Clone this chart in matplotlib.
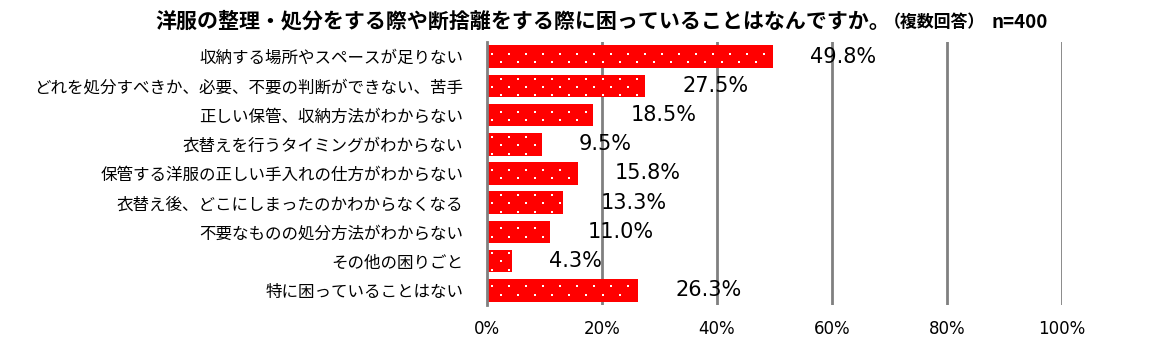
import matplotlib
matplotlib.use("Agg")
import matplotlib.pyplot as plt
import numpy as np

plt.rcParams['font.family'] = ['Noto Sans CJK JP', 'DejaVu Sans']

categories = [
    "収納する場所やスペースが足りない",
    "どれを処分すべきか、必要、不要の判断ができない、苦手",
    "正しい保管、収納方法がわからない",
    "衣替えを行うタイミングがわからない",
    "保管する洋服の正しい手入れの仕方がわからない",
    "衣替え後、どこにしまったのかわからなくなる",
    "不要なものの処分方法がわからない",
    "その他の困りごと",
    "特に困っていることはない",
]
values = [49.8, 27.5, 18.5, 9.5, 15.8, 13.3, 11.0, 4.3, 26.3]
xticks = [0, 20, 40, 60, 80, 100]

fig = plt.figure(figsize=(11.64, 3.43), dpi=100)
ax = fig.add_axes([0.4184, 0.1108, 0.494, 0.7668])

ypos = np.arange(len(categories))
bar_h = 0.77
bars = ax.barh(ypos, values, height=bar_h, color='#ff0000', linewidth=0, zorder=3)

ax.set_xlim(0, 100)
ax.set_ylim(len(categories) - 0.5, -0.5)

# sparse white dot pattern on the bars (diamond lattice in pixel space)
x0, y0 = ax.transData.transform((0, -0.5))
x1, y1 = ax.transData.transform((100, len(categories) - 0.5))
step_x, step_y = 8.5, 8.3
gx = np.arange(x0 + 5, x1, step_x)
gy = np.arange(min(y0, y1) + 2, max(y0, y1), step_y)
GX, GY = np.meshgrid(gx, gy)
ii, jj = np.meshgrid(np.arange(len(gx)), np.arange(len(gy)))
keep = (ii + jj) % 2 == 0
pts = ax.transData.inverted().transform(np.column_stack([GX[keep], GY[keep]]))
px_per_x = (x1 - x0) / 100
px_per_y = abs(y1 - y0) / len(categories)
dots = []
for y, v in zip(ypos, values):
    m = ((pts[:, 0] > 1.5 / px_per_x) & (pts[:, 0] < v - 2 / px_per_x)
         & (np.abs(pts[:, 1] - y) < bar_h / 2 - 1.5 / px_per_y))
    dots.append(pts[m])
dots = np.vstack(dots)
ax.scatter(dots[:, 0], dots[:, 1], s=2.2, marker='s', color='white',
           linewidths=0, zorder=3.5)

for y, v in zip(ypos, values):
    ax.annotate(f"{v:.1f}%", (v, y), xytext=(37, 0), textcoords='offset pixels',
                ha='left', va='center', fontsize=15, family='DejaVu Sans',
                color='black', zorder=4)

ax.set_xticks(xticks)
ax.set_xticklabels([f"{t}%" for t in xticks], fontsize=12, family='DejaVu Sans')
ax.set_yticks(ypos)
ax.set_yticklabels(categories, fontsize=11.9)
ax.tick_params(axis='x', length=0, pad=11)
ax.tick_params(axis='y', length=0, pad=17)

for t in xticks[1:]:
    ax.axvline(t, color='#808080', linewidth=2, zorder=1)
for s in ['top', 'right', 'bottom']:
    ax.spines[s].set_visible(False)
ax.spines['left'].set_color('#808080')
ax.spines['left'].set_linewidth(2)
ax.spines['left'].set_zorder(5)

# title in three pieces: question, note, sample size
fig.text(155 / 1164, 1 - 21 / 343, "洋服の整理・処分をする際や断捨離をする際に困っていることはなんですか。",
         ha='left', va='center', fontsize=15.1, fontweight='bold')
fig.text(884 / 1164, 1 - 22 / 343, "（複数回答）", ha='left', va='center',
         fontsize=12.2, fontweight='bold')
fig.text(1048 / 1164, 1 - 22 / 343, "n=400", ha='right', va='center',
         fontsize=13.5, fontweight='bold')

fig.savefig("out.png", dpi=100)
